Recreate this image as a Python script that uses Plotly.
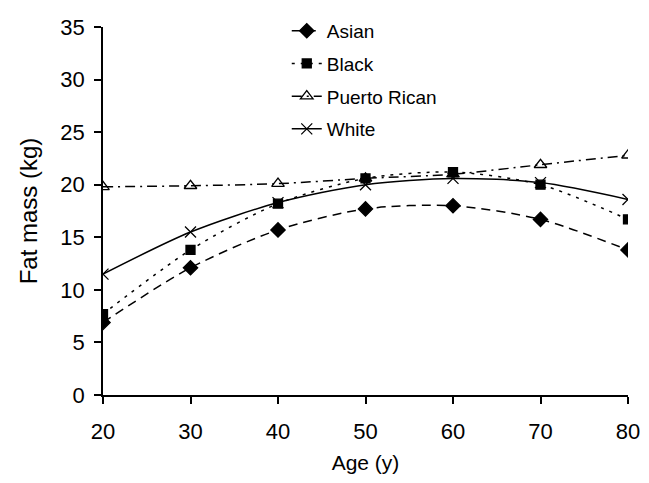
import plotly.graph_objects as go

ages = [20, 30, 40, 50, 60, 70, 80]
asian = [6.9, 12.1, 15.7, 17.7, 18.0, 16.7, 13.8]
black = [7.7, 13.8, 18.2, 20.6, 21.2, 20.0, 16.7]
puerto_rican = [19.8, 19.9, 20.1, 20.6, 21.0, 21.9, 22.8]
white = [11.5, 15.5, 18.3, 20.0, 20.6, 20.2, 18.6]
y_ticks = [0, 5, 10, 15, 20, 25, 30, 35]

series = [
    ("Asian", asian, "9px,6px", "diamond", 11),
    ("Black", black, "3px,6px", "square", 9),
    ("Puerto Rican", puerto_rican, "10px,5px,2px,5px", "triangle-up-open", 11),
    ("White", white, "solid", "x-thin-open", 11),
]

fig = go.Figure()
for name, vals, dash, sym, size in series:
    fig.add_trace(go.Scatter(
        x=ages, y=vals, name=name, mode="lines+markers", legendgroup=name,
        line=dict(color="black", width=1.5, dash=dash, shape="spline", smoothing=0.8),
        marker=dict(symbol=sym, size=size, color="black",
                    line=dict(color="black", width=1.3)),
    ))

font = "Liberation Sans, Arial, sans-serif"
axis_common = dict(showgrid=False, zeroline=False, showline=True, linecolor="black",
                   linewidth=1.5, ticks="outside", ticklen=7, tickwidth=1.5,
                   tickcolor="black", automargin=False)
fig.update_layout(
    width=649, height=483,
    paper_bgcolor="white", plot_bgcolor="white",
    margin=dict(l=95, r=29, t=19, b=96, autoexpand=False),
    font=dict(family=font, size=22, color="black"),
    showlegend=True,
    legend=dict(x=0.35, y=1.041, xanchor="left", yanchor="top", traceorder="grouped",
                font=dict(size=19, family=font), bgcolor="rgba(0,0,0,0)",
                tracegroupgap=5),
    xaxis=dict(range=[20, 80], tickvals=ages, ticklabelstandoff=9,
               title=dict(text="Age (y)", font=dict(size=21), standoff=12), **axis_common),
    yaxis=dict(range=[0, 35], tickvals=y_ticks, ticklabelstandoff=5,
               title=dict(text="Fat mass (kg)", font=dict(size=24), standoff=16), **axis_common),
)

fig.write_html("out.html")
